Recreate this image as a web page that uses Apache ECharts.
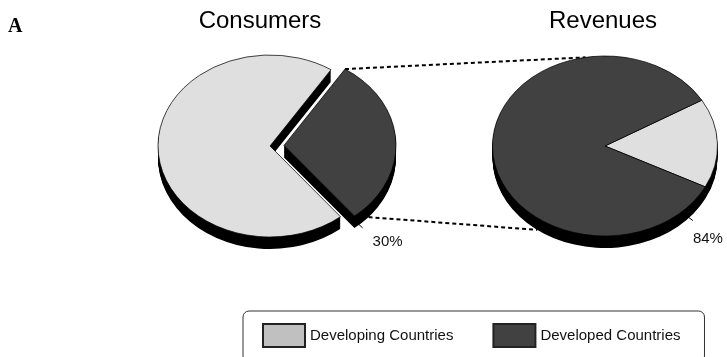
<!DOCTYPE html>
<html>
<head>
<meta charset="utf-8">
<script src="https://cdn.jsdelivr.net/npm/echarts@6/dist/echarts.min.js"></script>
<style>
  html, body { margin: 0; padding: 0; background: #fff; }
  #chart { width: 727px; height: 357px; }
</style>
</head>
<body>
<div id="chart"></div>
<script>
// Groups shown in both pies
const categories = ['Developing Countries', 'Developed Countries'];
// Pie titles, in drawing order
const pieNames = ['Consumers', 'Revenues'];
// Share (%) of each group in each pie: [Consumers, Revenues]
const developingShare = [70, 16];
const developedShare = [30, 84];
const panelLabel = 'A';

const shares = [developingShare, developedShare];
const sliceColors = ['#dfdfdf', '#414141'];
const legendColors = ['#c0c0c0', '#414141'];
const FONT = '"Liberation Sans", Arial, Helvetica, sans-serif';

// Tilted pies are drawn as ellipses with an extruded black rim.
// start: angle (deg, counter-clockwise from 3 o'clock) where the first group begins.
// explode: outward offset of each group's slice.
const pies = [
  { cx: 270, cy: 146, rx: 112, ry: 91, depth: 12, start: 57, explode: [0, 14],
    labelAngle: -49, labelDx: 10, labelDy: 14, titleX: 260 },
  { cx: 605, cy: 146, rx: 112.5, ry: 90, depth: 12, start: -27, explode: [0, 0],
    labelAngle: -43, labelDx: 0, labelDy: 18, titleX: 603 }
];

function sliceSpan(p, c) {
  let a = pies[p].start;
  for (let i = 0; i < c; i++) a += shares[i][p] / 100 * 360;
  return [a, a + shares[c][p] / 100 * 360];
}

function sliceCenter(p, c) {
  const pie = pies[p];
  const [a0, a1] = sliceSpan(p, c);
  const m = (a0 + a1) / 2 * Math.PI / 180;
  const d = pie.explode[c];
  return [pie.cx + d * Math.cos(m), pie.cy - d * Math.sin(m) * pie.ry / pie.rx];
}

function rimPoint(p, c, deg, drop) {
  const pie = pies[p];
  const [x, y] = sliceCenter(p, c);
  const t = deg * Math.PI / 180;
  return [x + pie.rx * Math.cos(t), y - pie.ry * Math.sin(t) + drop];
}

function renderSlice(c) {
  return function (params, api) {
    const p = params.dataIndex;
    const pie = pies[p];
    const [a0, a1] = sliceSpan(p, c);
    const [x, y] = sliceCenter(p, c);
    const k = pie.ry / pie.rx;
    const shape = {
      cx: 0, cy: 0, r0: 0, r: pie.rx,
      startAngle: -a1 * Math.PI / 180, endAngle: -a0 * Math.PI / 180, clockwise: true
    };
    const children = [];
    // extruded side: stacked black copies below the face
    for (let d = pie.depth; d >= 1; d--) {
      children.push({
        type: 'sector', x: x, y: y + d, scaleY: k, shape: shape,
        style: { fill: '#000' }, z2: 1
      });
    }
    // top face
    children.push({
      type: 'sector', x: x, y: y, scaleY: k, shape: shape,
      style: { fill: sliceColors[c], stroke: '#000', lineWidth: 0.8, strokeNoScale: true },
      z2: 10
    });
    if (c === 1) {
      const [sx, sy] = rimPoint(p, c, pie.labelAngle, pie.depth * 0.75);
      const t = pie.labelAngle * Math.PI / 180;
      let vx = Math.cos(t), vy = -Math.sin(t) * k;
      const n = Math.hypot(vx, vy);
      vx = vx / n * 7; vy = vy / n * 7;
      children.push({
        type: 'line', shape: { x1: sx, y1: sy, x2: sx + vx, y2: sy + vy },
        style: { stroke: '#000', lineWidth: 1 }, z2: 12
      });
      children.push({
        type: 'text', x: sx + vx + pie.labelDx, y: sy + vy + pie.labelDy,
        style: {
          text: api.value(0) + '%', fontSize: 15, fontFamily: FONT, fill: '#111',
          align: 'left', verticalAlign: 'middle'
        },
        z2: 12
      });
    }
    return { type: 'group', children: children };
  };
}

// dashed connectors from the exploded slice to the second pie
const topA = rimPoint(0, 1, sliceSpan(0, 1)[1], 0);
const topB = rimPoint(1, 1, 100, 0);
const botA = rimPoint(0, 1, -41, pies[0].depth);
const botB = rimPoint(1, 1, -127, pies[1].depth);
const dashStyle = { stroke: '#000', lineWidth: 2, lineDash: [4, 3] };

const chart = echarts.init(document.getElementById('chart'), null, { renderer: 'canvas' });
chart.setOption({
  animation: false,
  backgroundColor: '#fff',
  legend: {
    left: 243, top: 311,
    orient: 'horizontal',
    icon: 'rect',
    itemWidth: 42, itemHeight: 23, itemGap: 39,
    padding: [12, 24, 14, 19],
    borderColor: '#333', borderWidth: 1, borderRadius: 6,
    selectedMode: false,
    textStyle: { fontSize: 15, fontFamily: FONT, color: '#111' },
    data: categories.map((name, i) => ({
      name: name,
      itemStyle: { color: legendColors[i], borderColor: '#222', borderWidth: 2 }
    }))
  },
  graphic: [
    { type: 'text', x: 8, y: 27, style: { text: panelLabel, font: 'bold 20px "Liberation Serif", "Times New Roman", serif', fill: '#000', verticalAlign: 'middle' } },
    ...pieNames.map((name, p) => ({
      type: 'text', x: pies[p].titleX, y: 21,
      style: { text: name, fontSize: 24, fontFamily: FONT, fill: '#000', align: 'center', verticalAlign: 'middle' }
    })),
    { type: 'line', shape: { x1: topA[0], y1: topA[1], x2: topB[0], y2: topB[1] }, style: dashStyle },
    { type: 'line', shape: { x1: botA[0], y1: botA[1], x2: botB[0], y2: botB[1] }, style: dashStyle }
  ],
  series: categories.map((name, c) => ({
    type: 'custom',
    name: name,
    coordinateSystem: 'none',
    silent: true,
    z: 2,
    itemStyle: { color: sliceColors[c] },
    renderItem: renderSlice(c),
    data: shares[c]
  }))
});
</script>
</body>
</html>
